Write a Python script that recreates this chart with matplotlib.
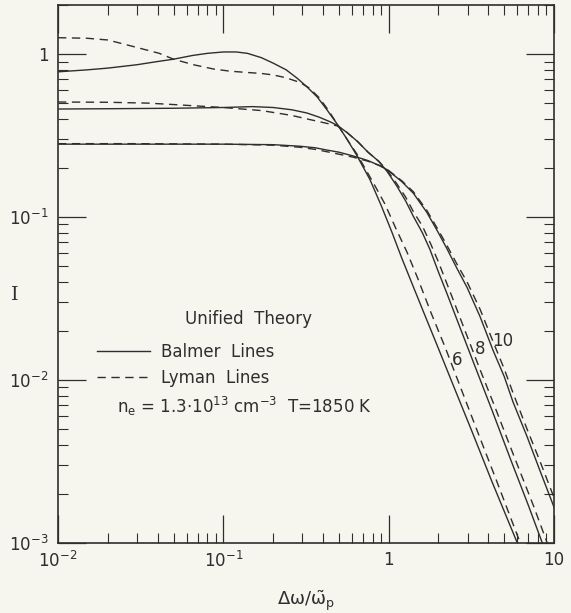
import matplotlib
matplotlib.use('Agg')
import matplotlib.pyplot as plt
from matplotlib.ticker import LogLocator, NullFormatter, FixedLocator, FixedFormatter

plt.rcParams['font.family'] = ['DejaVu Sans']
plt.rcParams['mathtext.default'] = 'regular'

# ---------------- data ----------------
# Balmer line, level 6 (solid)
b6_x = [0.01, 0.015, 0.02, 0.03, 0.04, 0.05, 0.065, 0.08, 0.1, 0.12, 0.14, 0.17, 0.2, 0.24,
        0.28, 0.32, 0.37, 0.42, 0.49, 0.56, 0.64, 0.77, 0.9, 1.05, 1.2, 1.4, 1.66, 2.0, 2.5,
        3.2, 4.2, 6.0]
b6_y = [0.778, 0.80, 0.82, 0.86, 0.90, 0.93, 0.98, 1.01, 1.03, 1.03, 1.01, 0.95, 0.88, 0.80,
        0.71, 0.63, 0.545, 0.46, 0.37, 0.30, 0.24, 0.17, 0.118, 0.08, 0.056, 0.038, 0.0248,
        0.0156, 0.0089, 0.0048, 0.0024, 0.001]
# Lyman line, level 6 (dashed)
l6_x = [0.01, 0.015, 0.02, 0.026, 0.033, 0.041, 0.05, 0.066, 0.087, 0.11, 0.13, 0.17, 0.2,
        0.24, 0.29, 0.33, 0.38, 0.43, 0.49, 0.56, 0.64, 0.8, 0.95, 1.1, 1.29, 1.5, 1.8, 2.2,
        2.7, 3.4, 4.5, 6.25]
l6_y = [1.26, 1.25, 1.22, 1.14, 1.07, 1.01, 0.93, 0.86, 0.81, 0.785, 0.775, 0.76, 0.745,
        0.715, 0.67, 0.62, 0.54, 0.455, 0.37, 0.30, 0.245, 0.165, 0.12, 0.086, 0.061, 0.042,
        0.026, 0.0158, 0.0092, 0.0050, 0.0024, 0.001]
# Balmer line, level 8 (solid)
b8_x = [0.01, 0.02, 0.05, 0.1, 0.15, 0.2, 0.26, 0.32, 0.38, 0.44, 0.49, 0.56, 0.65, 0.75,
        0.87, 0.98, 1.12, 1.27, 1.41, 1.6, 1.78, 2.0, 2.25, 2.7, 3.3, 4.2, 5.5, 7.0, 8.5]
b8_y = [0.46, 0.462, 0.465, 0.47, 0.476, 0.47, 0.455, 0.435, 0.41, 0.385, 0.365, 0.33, 0.29,
        0.25, 0.22, 0.19, 0.155, 0.125, 0.101, 0.08, 0.063, 0.046, 0.034, 0.021, 0.0124,
        0.0066, 0.0032, 0.0017, 0.001]
# Lyman line, level 8 (dashed)
l8_x = [0.01, 0.02, 0.035, 0.05, 0.07, 0.1, 0.13, 0.17, 0.21, 0.26, 0.32, 0.38, 0.44, 0.49,
        0.56, 0.65, 0.75, 0.87, 0.98, 1.12, 1.27, 1.41, 1.6, 1.8, 2.0, 2.4, 2.9, 3.5, 4.4,
        5.8, 7.5, 9.1]
l8_y = [0.508, 0.506, 0.50, 0.49, 0.48, 0.47, 0.46, 0.45, 0.435, 0.42, 0.40, 0.385, 0.372,
        0.362, 0.33, 0.29, 0.25, 0.22, 0.193, 0.16, 0.132, 0.108, 0.088, 0.068, 0.053, 0.033,
        0.020, 0.0122, 0.0068, 0.0033, 0.0017, 0.001]
# Balmer line, level 10 (solid)
b10_x = [0.01, 0.03, 0.1, 0.2, 0.29, 0.36, 0.42, 0.5, 0.61, 0.75, 0.88, 0.98, 1.2, 1.41,
         1.7, 2.0, 2.25, 2.6, 2.98, 3.57, 4.28, 5.0, 5.66, 6.87, 8.2, 10.0]
b10_y = [0.28, 0.28, 0.28, 0.278, 0.272, 0.266, 0.258, 0.25, 0.237, 0.222, 0.207, 0.195,
         0.165, 0.14, 0.107, 0.08, 0.064, 0.048, 0.037, 0.0245, 0.0152, 0.0105, 0.0073,
         0.0045, 0.0028, 0.00166]
# Lyman line, level 10 (dashed)
l10_x = [0.01, 0.03, 0.1, 0.2, 0.29, 0.36, 0.42, 0.5, 0.61, 0.75, 0.88, 0.98, 1.2, 1.41,
         1.7, 2.0, 2.25, 2.6, 2.98, 3.57, 4.28, 5.0, 5.66, 6.87, 8.2, 10.0]
l10_y = [0.282, 0.282, 0.28, 0.276, 0.268, 0.26, 0.252, 0.243, 0.233, 0.22, 0.207, 0.196,
         0.167, 0.143, 0.11, 0.083, 0.067, 0.051, 0.040, 0.0272, 0.0172, 0.0117, 0.0083,
         0.0050, 0.0032, 0.0019]

x_ticks = [1e-2, 1e-1, 1, 10]
x_tick_labels = ['$10^{-2}$', '$10^{-1}$', '1', '10']
y_ticks = [1e-3, 1e-2, 1e-1, 1]
y_tick_labels = ['$10^{-3}$', '$10^{-2}$', '$10^{-1}$', '1']

curve_labels = ['6', '8', '10']
curve_label_x = [2.59, 3.57, 4.86]
curve_label_y = [0.0133, 0.0155, 0.0173]

# ---------------- drawing ----------------
bg = '#f6f6ee'
ink = '#2e2e2e'
dash = (0, (6, 4))

fig = plt.figure(figsize=(5.71, 6.13), dpi=100)
fig.patch.set_facecolor(bg)
ax = fig.add_axes([58 / 571, 70 / 613, 496 / 571, 538 / 613])
ax.set_facecolor(bg)
ax.set_xscale('log')
ax.set_yscale('log')
ax.set_xlim(1e-2, 10)
ax.set_ylim(1e-3, 2.0)

ax.plot(b6_x, b6_y, color=ink, lw=1.0, label='Balmer  Lines')
ax.plot(l6_x, l6_y, color=ink, lw=1.0, linestyle=dash, label='Lyman  Lines')
ax.plot(b8_x, b8_y, color=ink, lw=1.0)
ax.plot(l8_x, l8_y, color=ink, lw=1.0, linestyle=dash)
ax.plot(b10_x, b10_y, color=ink, lw=1.0)
ax.plot(l10_x, l10_y, color=ink, lw=1.0, linestyle=dash)

for lab, lx, ly in zip(curve_labels, curve_label_x, curve_label_y):
    ax.text(lx, ly, lab, ha='center', va='center', fontsize=12, color=ink)

for s in ax.spines.values():
    s.set_color(ink)
    s.set_linewidth(1.2)

ax.xaxis.set_major_locator(FixedLocator(x_ticks))
ax.xaxis.set_major_formatter(FixedFormatter(x_tick_labels))
ax.yaxis.set_major_locator(FixedLocator(y_ticks))
ax.yaxis.set_major_formatter(FixedFormatter(y_tick_labels))
ax.xaxis.set_minor_locator(LogLocator(base=10, subs=range(2, 10), numticks=20))
ax.yaxis.set_minor_locator(LogLocator(base=10, subs=range(2, 10), numticks=20))
ax.xaxis.set_minor_formatter(NullFormatter())
ax.yaxis.set_minor_formatter(NullFormatter())
ax.tick_params(which='both', direction='in', top=True, right=True, color=ink,
               labelcolor=ink, labelsize=12)
ax.tick_params(which='major', length=20, width=0.9)
ax.tick_params(which='minor', length=7, width=0.8)
ax.tick_params(axis='y', which='major', pad=7)
ax.tick_params(axis='x', which='major', pad=6)

ax.set_xlabel(r'$\Delta\omega/\tilde{\omega}_p$', fontsize=13, color=ink)
ax.xaxis.set_label_coords(0.5, -0.085)
ax.set_ylabel('I', rotation=0, fontsize=14, color=ink, va='center', family='DejaVu Serif')
ax.yaxis.set_label_coords(-0.087, 0.461)

ax.text(0.385, 0.417, 'Unified  Theory', transform=ax.transAxes, ha='center', va='center',
        fontsize=12, color=ink)
ax.legend(loc='center left', bbox_to_anchor=(0.0786, 0.331), frameon=False, borderpad=0,
          borderaxespad=0, handlelength=3.2, handletextpad=0.65, labelspacing=0.45,
          fontsize=12, labelcolor=ink)
ax.text(0.119, 0.253, r'$n_e$ = 1.3$\cdot$10$^{13}$ cm$^{-3}$  T=1850 K',
        transform=ax.transAxes, ha='left', va='center', fontsize=12, color=ink)

fig.savefig('out.png', dpi=100, facecolor=bg)
